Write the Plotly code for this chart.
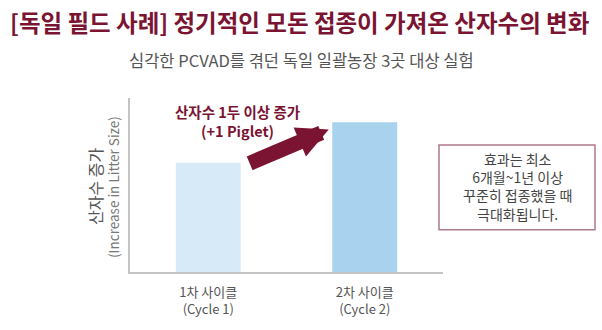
import plotly.graph_objects as go

categories = ["1차 사이클<br>(Cycle 1)", "2차 사이클<br>(Cycle 2)"]
litter_size = [2.7, 3.7]
bar_colors = ["#d7eaf8", "#a8d2ee"]
title = "[독일 필드 사례] 정기적인 모돈 접종이 가져온 산자수의 변화"
subtitle = "심각한 PCVAD를 겪던 독일 일괄농장 3곳 대상 실험"
arrow_label_lines = ["산자수 1두 이상 증가", "(+1 Piglet)"]
note_lines = ["효과는 최소", "6개월~1년 이상", "꾸준히 접종했을 때", "극대화됩니다."]

FONT = "Noto Sans CJK KR"
RED = "#7a1432"

fig = go.Figure()
fig.add_trace(go.Bar(
    x=[0, 1], y=litter_size, width=0.415,
    marker=dict(color=bar_colors, line=dict(width=0)),
    hoverinfo="skip",
))

fig.update_layout(
    width=602, height=330,
    margin=dict(l=130, r=159, t=98, b=47),
    paper_bgcolor="white", plot_bgcolor="white",
    showlegend=False,
    font=dict(family=FONT, color="#555"),
    xaxis=dict(range=[-0.5, 1.5], tickvals=[0, 1], ticktext=categories,
               showgrid=False, zeroline=False, showline=True,
               linecolor="#c4c4c4", linewidth=1.5, ticks="",
               ticklabelstandoff=8,
               tickfont=dict(size=13, color="#555", family=FONT)),
    yaxis=dict(range=[0, 4.3], showticklabels=False, showgrid=False,
               zeroline=False, showline=True, linecolor="#c4c4c4",
               linewidth=1.5, ticks=""),
)

# titles (centered on the figure, not the plot area)
fig.add_annotation(text="<b>" + title + "</b>", xref="paper", yref="paper",
                   x=(299 - 130) / 313, y=1, xanchor="center", yanchor="middle",
                   yshift=98 - 22, showarrow=False,
                   font=dict(size=23.5, color=RED, family=FONT))
fig.add_annotation(text=subtitle, xref="paper", yref="paper",
                   x=(301 - 130) / 313, y=1, xanchor="center", yanchor="middle",
                   yshift=98 - 60, showarrow=False,
                   font=dict(size=16.5, color="#555", family=FONT))

# y axis titles
fig.add_annotation(text="산자수 증가", xref="paper", yref="paper",
                   x=0, y=0.5, xanchor="center", yanchor="middle",
                   xshift=95 - 130, yshift=-2, textangle=-90, showarrow=False,
                   font=dict(size=16, color="#555", family=FONT))
fig.add_annotation(text="(Increase in Litter Size)", xref="paper", yref="paper",
                   x=0, y=0.5, xanchor="center", yanchor="middle",
                   xshift=113 - 130, yshift=-2, textangle=-90, showarrow=False,
                   font=dict(size=13.5, color="#777", family=FONT))

# arrow
fig.add_annotation(x=0.77, y=3.52, ax=0.255, ay=2.67,
                   xref="x", yref="y", axref="x", ayref="y",
                   text="", showarrow=True, arrowhead=2, arrowsize=0.42,
                   arrowwidth=15, arrowcolor=RED)
fig.add_annotation(text="<b>" + "<br>".join(arrow_label_lines) + "</b>",
                   xref="x", yref="paper",
                   x=0.19, y=(283 - 122.5) / 185,
                   xanchor="center", yanchor="middle",
                   showarrow=False, font=dict(size=14.5, color=RED, family=FONT))

# note box
fig.add_shape(type="rect", xref="paper", yref="paper",
              x0=(439 - 130) / 313, x1=(595 - 130) / 313,
              y0=(283 - 238) / 185, y1=(283 - 148) / 185,
              line=dict(color="#b07a88", width=1.5), fillcolor="white")
fig.add_annotation(text="<br>".join(note_lines), xref="paper", yref="paper",
                   x=(517 - 130) / 313, y=(283 - 192) / 185,
                   xanchor="center", yanchor="middle", showarrow=False,
                   align="center",
                   font=dict(size=14, color="#444", family=FONT))

fig.write_html("out.html")
